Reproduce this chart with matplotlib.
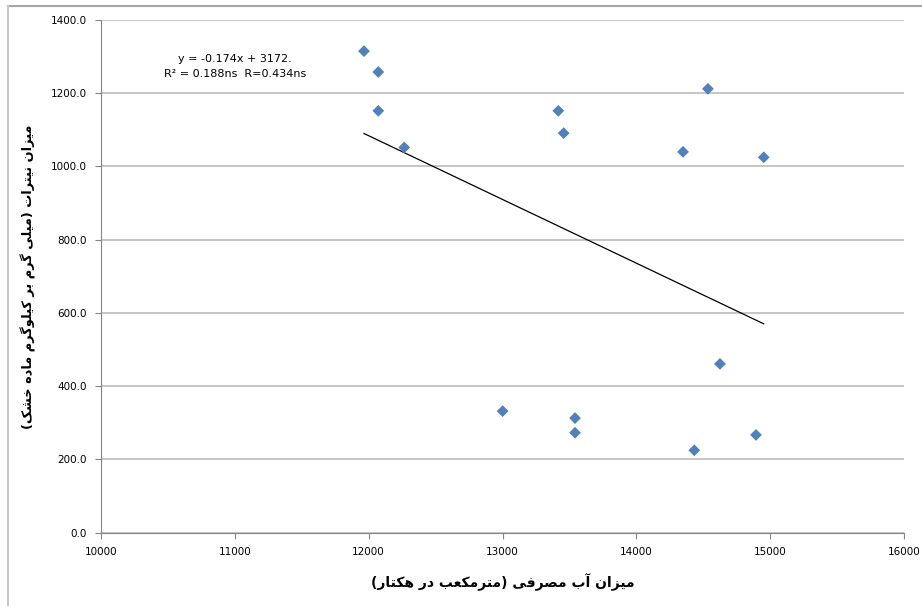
import numpy as np
import matplotlib
matplotlib.use("Agg")
import matplotlib.pyplot as plt
from matplotlib.lines import Line2D

# water used (m3/ha) vs nitrate (mg/kg dry matter)
water = [11965, 12072, 12072, 12266, 13417, 13457, 14535, 14349, 14952,
         14625, 13001, 13542, 13542, 14433, 14894]
nitrate = [1315, 1258, 1152, 1052, 1152, 1091, 1212, 1040, 1025,
           461, 332, 313, 273, 225, 267]

# trend line as printed on the chart
slope = -0.174
intercept = 3172.0
eq_text = "y = -0.174x + 3172.\nR² = 0.188ns  R=0.434ns"

xlabel_fa = "میزان آب مصرفی (مترمکعب در هکتار)"
ylabel_fa = "میزان نیترات (میلی گرم بر کیلوگرم ماده خشک)"

xticks = [10000, 11000, 12000, 13000, 14000, 15000, 16000]
yticks = [0, 200, 400, 600, 800, 1000, 1200, 1400]


# matplotlib does no arabic shaping, so do it by hand
# (isolated, final, initial, medial)
FORMS = {
    'ا': (0xFE8D, 0xFE8E), 'آ': (0xFE81, 0xFE82),
    'د': (0xFEA9, 0xFEAA), 'ر': (0xFEAD, 0xFEAE),
    'ز': (0xFEAF, 0xFEB0), 'و': (0xFEED, 0xFEEE),
    'ب': (0xFE8F, 0xFE90, 0xFE91, 0xFE92), 'ت': (0xFE95, 0xFE96, 0xFE97, 0xFE98),
    'خ': (0xFEA5, 0xFEA6, 0xFEA7, 0xFEA8), 'ش': (0xFEB5, 0xFEB6, 0xFEB7, 0xFEB8),
    'ص': (0xFEB9, 0xFEBA, 0xFEBB, 0xFEBC), 'ع': (0xFEC9, 0xFECA, 0xFECB, 0xFECC),
    'ف': (0xFED1, 0xFED2, 0xFED3, 0xFED4), 'ل': (0xFEDD, 0xFEDE, 0xFEDF, 0xFEE0),
    'م': (0xFEE1, 0xFEE2, 0xFEE3, 0xFEE4), 'ن': (0xFEE5, 0xFEE6, 0xFEE7, 0xFEE8),
    'ه': (0xFEE9, 0xFEEA, 0xFEEB, 0xFEEC), 'ی': (0xFBFC, 0xFBFD, 0xFBFE, 0xFBFF),
    'ک': (0xFB8E, 0xFB8F, 0xFB90, 0xFB91), 'گ': (0xFB92, 0xFB93, 0xFB94, 0xFB95),
}


def shape(text):
    out = []
    for i, c in enumerate(text):
        if c not in FORMS:
            out.append(c)
            continue
        f = FORMS[c]
        prev = text[i - 1] if i > 0 else ''
        nxt = text[i + 1] if i + 1 < len(text) else ''
        pj = prev in FORMS and len(FORMS[prev]) == 4
        nj = nxt in FORMS and len(f) == 4
        if pj and nj:
            out.append(chr(f[3]))
        elif pj:
            out.append(chr(f[1]))
        elif nj:
            out.append(chr(f[2]))
        else:
            out.append(chr(f[0]))
    vis = ''.join(reversed(out))
    return vis.translate(str.maketrans('()', ')('))


fig = plt.figure(figsize=(9.22, 6.06), dpi=100)
ax = fig.add_axes([101 / 922, 1 - 532.7 / 606, 803 / 922, 512.7 / 606])

ax.scatter(water, nitrate, marker='D', s=36, color='#4F81BD', zorder=3,
           edgecolors='none')

xs = np.array([min(water), max(water)])
ax.plot(xs, slope * xs + intercept, color='black', lw=0.9, zorder=2)

ax.set_xlim(xticks[0], xticks[-1])
ax.set_ylim(yticks[0], yticks[-1])
ax.set_xticks(xticks)
ax.set_yticks(yticks)
ax.set_yticklabels(['%.1f' % v for v in yticks])
ax.yaxis.grid(True, color='#bcbcbc', lw=1.2)
ax.set_axisbelow(True)
for s in ['top', 'right']:
    ax.spines[s].set_visible(False)
for s in ['left', 'bottom']:
    ax.spines[s].set_color('#868686')
ax.tick_params(axis='both', colors='#868686', labelcolor='black',
               labelsize=7.5, length=4, direction='out')
ax.tick_params(axis='x', pad=6)
ax.tick_params(axis='y', pad=6)

ax.text(0.167, 0.91, eq_text, transform=ax.transAxes, ha='center',
        va='center', fontsize=8, linespacing=1.65)

ax.set_xlabel(shape(xlabel_fa), fontsize=10, fontweight='bold',
              family=['DejaVu Sans'], labelpad=12)
ax.set_ylabel(shape(ylabel_fa), fontsize=9.3, fontweight='bold',
              family=['DejaVu Sans'], labelpad=11)

# chart area border (top and left visible)
fig.add_artist(Line2D([8 / 922, 1], [1 - 6 / 606] * 2, color='#a6a6a6',
                      lw=1.5, transform=fig.transFigure))
fig.add_artist(Line2D([8 / 922] * 2, [0, 1 - 6 / 606], color='#c8c8c8',
                      lw=1.5, transform=fig.transFigure))

fig.savefig('out.png', dpi=100)
